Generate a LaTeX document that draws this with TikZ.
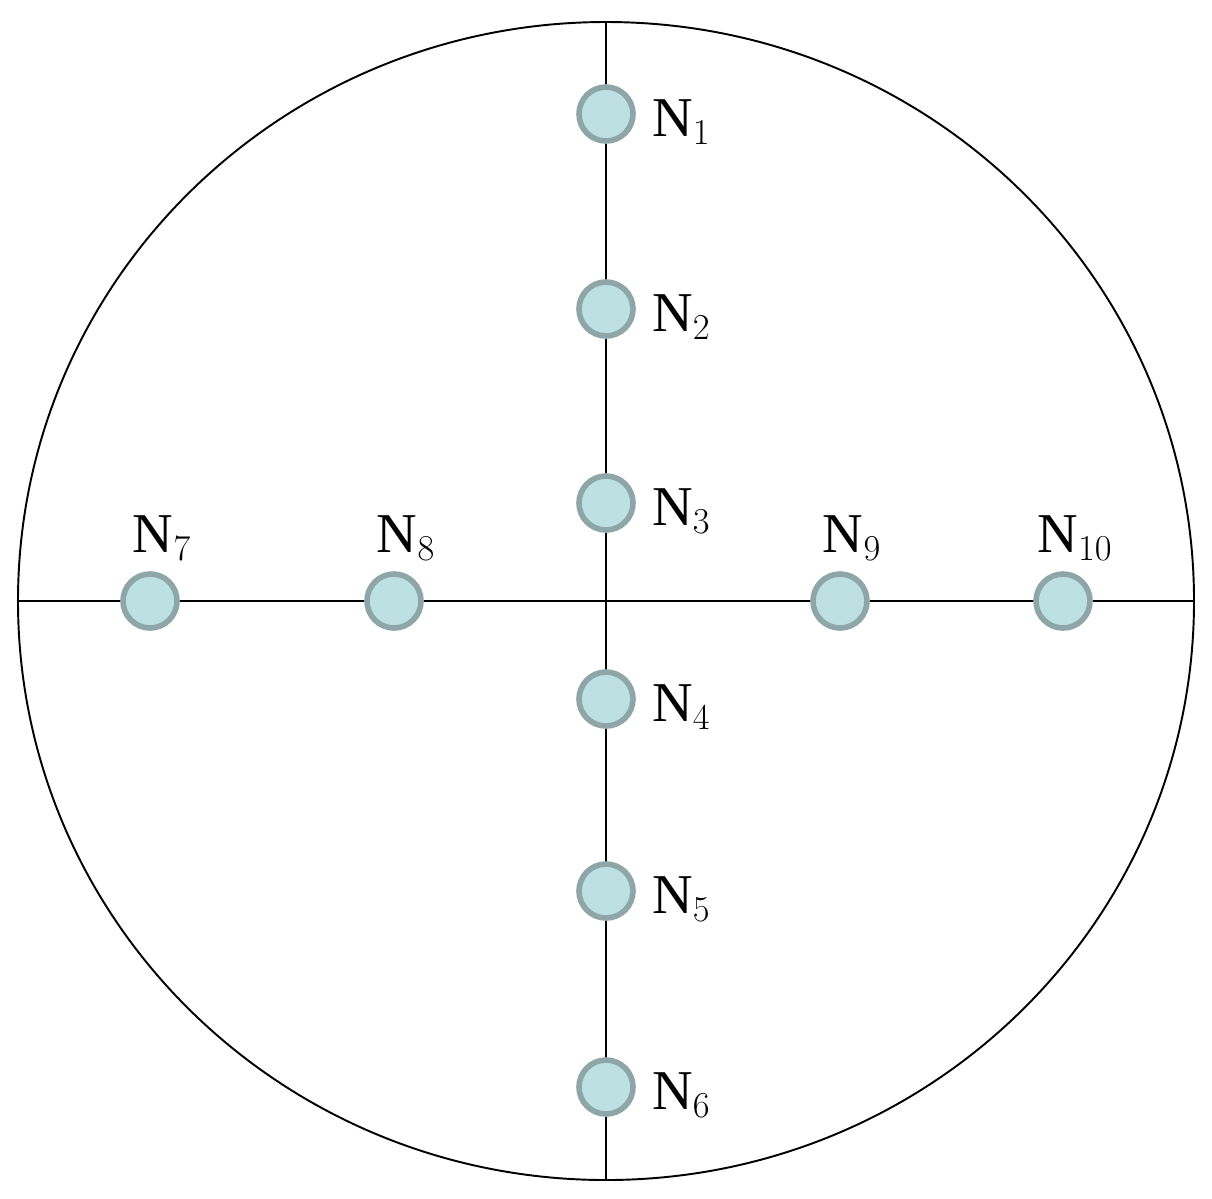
\documentclass[tikz,border=0pt]{standalone}
\usepackage{fontspec}
\setmainfont{Liberation Serif}
\begin{document}
\begin{tikzpicture}[x=0.02cm,y=-0.02cm,
  nd/.style={circle,fill=cyan!10!teal!5!white,fill={rgb,255:red,189;green,224;blue,226},draw={rgb,255:red,142;green,166;blue,168},line width=3.2pt,minimum size=1.08cm,inner sep=0pt},
  lbl/.style={font=\fontsize{32}{36}\selectfont,inner sep=0pt},
  ln/.style={line width=1.1pt}]
\useasboundingbox (0,0) rectangle (1212,1198);
\coordinate (c) at (606,601);
\draw[ln] (c) ellipse [x radius=588, y radius=579];
\coordinate (t) at (606,22);
\coordinate (b) at (606,1180);
\coordinate (l) at (18,601);
\coordinate (r) at (1194,601);
\draw[ln] (t) -- (b);
\draw[ln] (l) -- (r);
\foreach \n/\y in {1/114,2/309,3/503,4/699,5/891,6/1087}{
  \node[nd] (n\n) at (606,\y) {};
  \node[lbl,anchor=west] (t\n) at (652,\y+8) {N$_{\n}$};
}
\foreach \n/\x in {7/150,8/394,9/840,10/1063}{
  \node[nd] (n\n) at (\x,601) {};
  \node[lbl] (t\n) at (\x+12,538) {N$_{\n}$};
}
\end{tikzpicture}
\end{document}
